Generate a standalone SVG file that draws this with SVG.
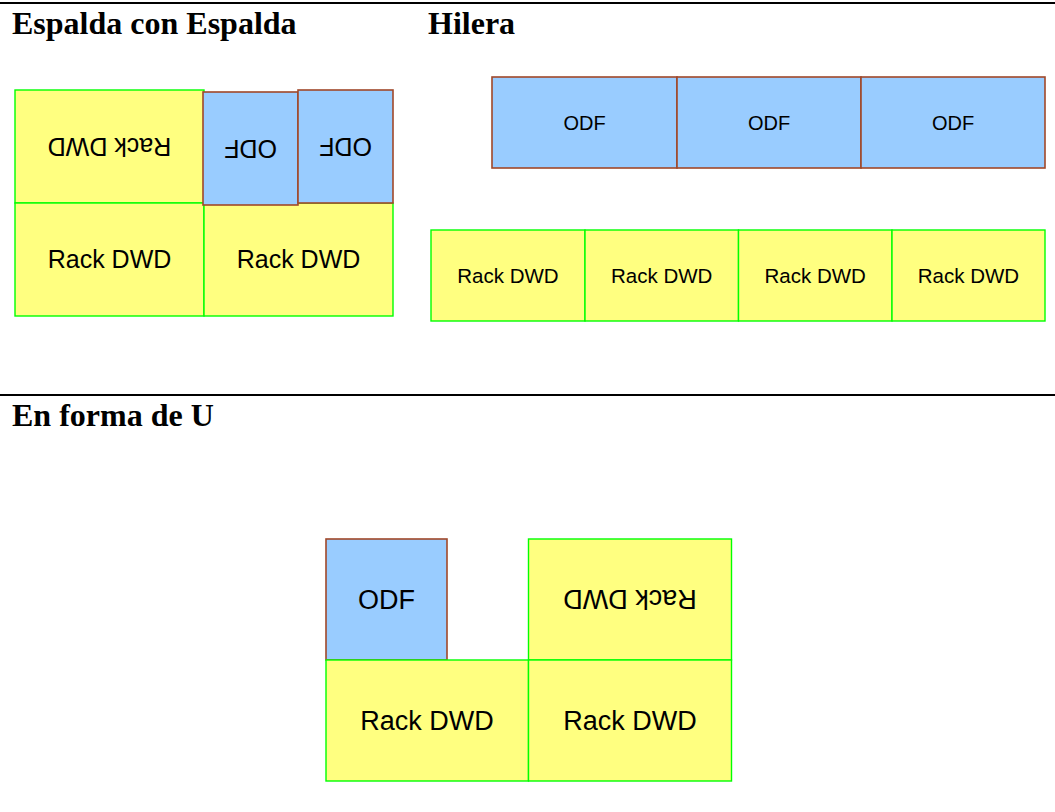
<svg xmlns="http://www.w3.org/2000/svg" width="1055" height="812" viewBox="0 0 1055 812">
<style>
.h{font-family:"Liberation Serif","Times New Roman",serif;font-weight:bold;font-size:32px;fill:#000}
.rack{fill:#ffff80;stroke:#00ff00;stroke-width:1.4}
.odf{fill:#99ccff;stroke:#a0482a;stroke-width:1.6}
.t{font-family:"Liberation Sans",Arial,sans-serif;fill:#000;text-anchor:middle}
.sep{stroke:#000;stroke-width:2}
</style>
<rect width="1055" height="812" fill="#fff"/>
<line class="sep" x1="0" y1="3" x2="1055" y2="3"/>
<line class="sep" x1="0" y1="395" x2="1055" y2="395"/>
<text class="h" x="12" y="34">Espalda con Espalda</text>
<text class="h" x="428" y="34">Hilera</text>
<text class="h" x="12" y="426">En forma de U</text>

<g id="espalda">
<g id="e-rack1"><rect class="rack" x="15" y="90" width="189" height="113"/><text class="t" font-size="25" x="109.5" y="155.4" transform="rotate(180 109.5 146.5)">Rack DWD</text></g>
<g id="e-rack2"><rect class="rack" x="15" y="203" width="189" height="113"/><text class="t" font-size="25" x="109.5" y="268">Rack DWD</text></g>
<g id="e-rack3"><rect class="rack" x="204" y="203" width="189" height="113"/><text class="t" font-size="25" x="298.5" y="268">Rack DWD</text></g>
<g id="e-odf1"><rect class="odf" x="203" y="92" width="95" height="113" stroke-width="2"/><text class="t" font-size="25" x="250.5" y="157.4" transform="rotate(180 250.5 148.5)">ODF</text></g>
<g id="e-odf2"><rect class="odf" x="298" y="90" width="95" height="113"/><text class="t" font-size="25" x="345.5" y="155.4" transform="rotate(180 345.5 146.5)">ODF</text></g>
</g>

<g id="hilera">
<g id="h-odf1"><rect class="odf" x="492" y="77" width="185" height="91"/><text class="t" font-size="20" x="584.5" y="129.5">ODF</text></g>
<g id="h-odf2"><rect class="odf" x="677" y="77" width="184" height="91"/><text class="t" font-size="20" x="769" y="129.5">ODF</text></g>
<g id="h-odf3"><rect class="odf" x="861" y="77" width="184" height="91"/><text class="t" font-size="20" x="953" y="129.5">ODF</text></g>
<g id="h-rack1"><rect class="rack" x="431" y="230" width="154" height="91"/><text class="t" font-size="20.5" x="508" y="282.7">Rack DWD</text></g>
<g id="h-rack2"><rect class="rack" x="585" y="230" width="153.5" height="91"/><text class="t" font-size="20.5" x="661.7" y="282.7">Rack DWD</text></g>
<g id="h-rack3"><rect class="rack" x="738.5" y="230" width="153.5" height="91"/><text class="t" font-size="20.5" x="815.2" y="282.7">Rack DWD</text></g>
<g id="h-rack4"><rect class="rack" x="892" y="230" width="153" height="91"/><text class="t" font-size="20.5" x="968.5" y="282.7">Rack DWD</text></g>
</g>

<g id="forma-u">
<g id="u-odf"><rect class="odf" x="326" y="539" width="121" height="121"/><text class="t" font-size="27" x="386.5" y="609">ODF</text></g>
<g id="u-rack1"><rect class="rack" x="528.5" y="539" width="203" height="121"/><text class="t" font-size="27" x="630" y="609" transform="rotate(180 630 599.5)">Rack DWD</text></g>
<g id="u-rack2"><rect class="rack" x="326" y="660" width="202.5" height="121"/><text class="t" font-size="27" x="427" y="730">Rack DWD</text></g>
<g id="u-rack3"><rect class="rack" x="528.5" y="660" width="203" height="121"/><text class="t" font-size="27" x="630" y="730">Rack DWD</text></g>
</g>

<g id="connectors"/>
</svg>
